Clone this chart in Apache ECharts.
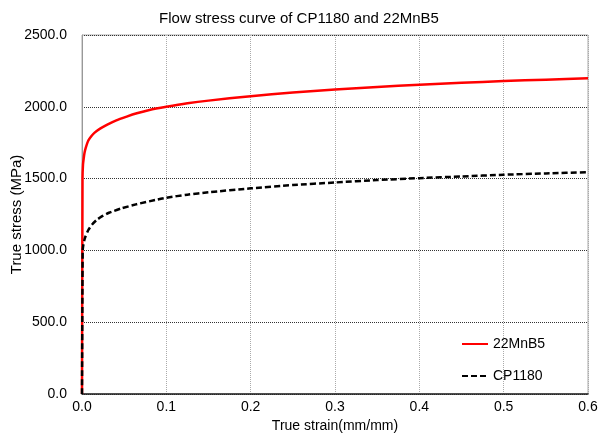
<!DOCTYPE html>
<html>
<head>
<meta charset="utf-8">
<script src="https://cdn.jsdelivr.net/npm/echarts@6/dist/echarts.min.js"></script>
<style>
  html, body { margin: 0; padding: 0; background: #fff; }
  #chart { width: 598px; height: 439px; }
</style>
</head>
<body>
<div id="chart"></div>
<script>
// 22MnB5
const strainMnB = [0, 0.0006, 0.0012, 0.002, 0.003, 0.0045, 0.0075, 0.011, 0.015, 0.021, 0.03, 0.04, 0.053, 0.065, 0.08, 0.1, 0.125, 0.15, 0.2, 0.25, 0.3, 0.35, 0.4, 0.45, 0.5, 0.55, 0.6]
const stressMnB = [0, 1500, 1600, 1640, 1680, 1715, 1765, 1795, 1820, 1846, 1876, 1904, 1932, 1955, 1978, 2000, 2024, 2043, 2074, 2100, 2120, 2138, 2154, 2167, 2179, 2189, 2198]
// CP1180
const strainCP = [0, 0.0008, 0.0015, 0.0025, 0.004, 0.0075, 0.012, 0.017, 0.023, 0.032, 0.047, 0.065, 0.087, 0.1, 0.125, 0.15, 0.2, 0.25, 0.3, 0.35, 0.4, 0.45, 0.5, 0.55, 0.6]
const stressCP = [0, 1000, 1035, 1065, 1095, 1142, 1180, 1210, 1235, 1262, 1293, 1322, 1351, 1367, 1388, 1405, 1432, 1455, 1473, 1490, 1503, 1515, 1527, 1536, 1545]

const seriesNames = ['22MnB5', 'CP1180']

function pairs (xs, ys) {
  return xs.map((x, i) => [x, ys[i]])
}

const font = 'Liberation Sans, Arial, sans-serif'
const chart = echarts.init(document.getElementById('chart'))
const option = {
  animation: false,
  title: {
    text: 'Flow stress curve of CP1180 and 22MnB5',
    left: 'center',
    top: 6,
    textStyle: { fontFamily: font, fontSize: 15, fontWeight: 'normal', color: '#000' }
  },
  grid: {
    left: 82,
    right: 10,
    top: 35,
    bottom: 45,
    outerBoundsMode: 'none',
    containLabel: false,
    show: true,
    borderColor: '#aaa',
    borderWidth: 1
  },
  legend: {
    orient: 'vertical',
    left: 456,
    top: 332,
    itemGap: 18,
    itemWidth: 26,
    itemHeight: 10,
    itemStyle: { opacity: 0 },
    textStyle: { fontFamily: font, fontSize: 14, color: '#000' },
    data: seriesNames
  },
  xAxis: {
    type: 'value',
    min: 0,
    max: 0.6,
    interval: 0.1,
    name: 'True strain(mm/mm)',
    nameLocation: 'middle',
    nameGap: 25,
    nameTextStyle: { fontFamily: font, fontSize: 14, color: '#000' },
    axisLine: { show: true, lineStyle: { color: '#222', width: 1.5 } },
    axisTick: { show: false },
    axisLabel: {
      fontFamily: font, fontSize: 14, color: '#000', margin: 6,
      formatter: v => v.toFixed(1)
    },
    splitLine: { show: true, lineStyle: { color: '#aaa', type: 'dotted', width: 1 } }
  },
  yAxis: {
    type: 'value',
    min: 0,
    max: 2500,
    interval: 500,
    name: 'True stress (MPa)',
    nameLocation: 'middle',
    nameGap: 58,
    nameMoveOverlap: false,
    nameTextStyle: { fontFamily: font, fontSize: 15, color: '#000' },
    axisLine: { show: true, lineStyle: { color: '#999', width: 1 } },
    axisTick: { show: false },
    axisLabel: {
      fontFamily: font, fontSize: 14, color: '#000', margin: 15,
      formatter: v => v.toFixed(1)
    },
    splitLine: { show: true, lineStyle: { color: '#333', type: 'dotted', width: 1 } }
  },
  series: [
    {
      name: seriesNames[0],
      type: 'line',
      symbol: 'none',
      smooth: 0.2,
      lineStyle: { color: '#ff0000', width: 2.5 },
      itemStyle: { color: '#ff0000' },
      data: pairs(strainMnB, stressMnB)
    },
    {
      name: seriesNames[1],
      type: 'line',
      symbol: 'none',
      smooth: 0.2,
      lineStyle: { color: '#000', width: 2.5, type: [6, 3] },
      itemStyle: { color: '#000' },
      data: pairs(strainCP, stressCP)
    }
  ]
}
chart.setOption(option)
</script>
</body>
</html>
